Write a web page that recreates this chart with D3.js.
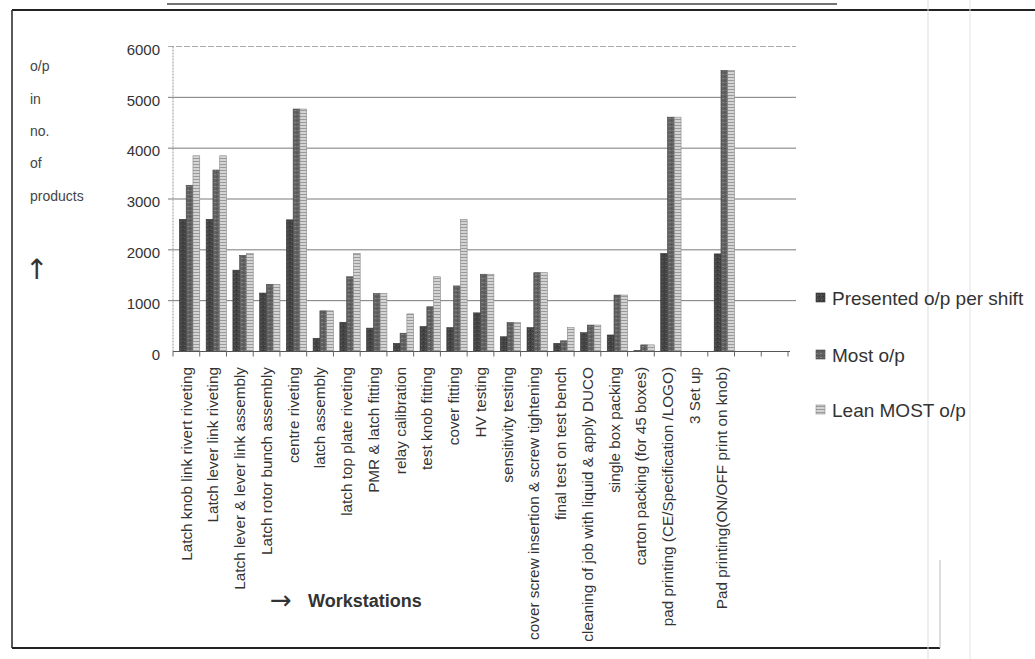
<!DOCTYPE html>
<html>
<head>
<meta charset="utf-8">
<script src="https://cdn.jsdelivr.net/npm/d3@7"></script>
<style>
  html, body { margin: 0; padding: 0; background: #ffffff; }
  svg { display: block; }
  text { font-family: "Liberation Sans", Arial, sans-serif; fill: #333; }
</style>
</head>
<body>
<svg id="chart" width="1035" height="659"></svg>
<script>
// ---- data ----
const categories = [
  "Latch knob link rivert riveting",
  "Latch lever link riveting",
  "Latch lever & lever link assembly",
  "Latch rotor bunch assembly",
  "centre riveting",
  "latch assembly",
  "latch top plate riveting",
  "PMR & latch fitting",
  "relay calibration",
  "test knob fitting",
  "cover fitting",
  "HV testing",
  "sensitivity testing",
  "cover screw insertion & screw tightening",
  "final test on test bench",
  "cleaning of job with liquid & apply DUCO",
  "single box packing",
  "carton packing (for 45 boxes)",
  "pad printing (CE/Specification /LOGO)",
  "3 Set up",
  "Pad printing(ON/OFF print on knob)"
];
const emptySlots = ["", ""];
const seriesNames = ["Presented o/p per shift", "Most o/p", "Lean MOST o/p"];
const presented = [2600, 2600, 1600, 1150, 2590, 260, 575, 460, 160, 490, 470, 760, 290, 470, 160, 370, 325, 20, 1930, 0, 1920];
const mostOp    = [3270, 3570, 1890, 1320, 4770, 800, 1470, 1140, 360, 880, 1290, 1520, 570, 1550, 210, 520, 1110, 130, 4610, 0, 5530];
const leanMost  = [3850, 3850, 1930, 1320, 4770, 800, 1930, 1140, 740, 1470, 2600, 1520, 570, 1550, 470, 520, 1110, 130, 4610, 0, 5530];
const yTicks = [0, 1000, 2000, 3000, 4000, 5000, 6000];
const yTitleWords = ["o/p", "in", "no.", "of", "products"];

const svg = d3.select("#chart");

// patterns
const defs = svg.append("defs");
const p1 = defs.append("pattern").attr("id", "patP").attr("patternUnits", "userSpaceOnUse").attr("width", 4).attr("height", 4);
p1.append("rect").attr("width", 4).attr("height", 4).attr("fill", "#444");
p1.append("rect").attr("x", 1).attr("y", 1).attr("width", 1).attr("height", 1).attr("fill", "#666");
p1.append("rect").attr("x", 3).attr("y", 2).attr("width", 1).attr("height", 1).attr("fill", "#2e2e2e");
const p2 = defs.append("pattern").attr("id", "patM").attr("patternUnits", "userSpaceOnUse").attr("width", 4).attr("height", 4);
p2.append("rect").attr("width", 4).attr("height", 4).attr("fill", "#626262");
p2.append("rect").attr("x", 0).attr("y", 2).attr("width", 2).attr("height", 1).attr("fill", "#858585");
p2.append("rect").attr("x", 2).attr("y", 0).attr("width", 1).attr("height", 1).attr("fill", "#4a4a4a");
const p3 = defs.append("pattern").attr("id", "patL").attr("patternUnits", "userSpaceOnUse").attr("width", 4).attr("height", 3);
p3.append("rect").attr("width", 4).attr("height", 3).attr("fill", "#d4d4d4");
p3.append("rect").attr("y", 2).attr("width", 4).attr("height", 1).attr("fill", "#9a9a9a");
const fills = ["url(#patP)", "url(#patM)", "url(#patL)"];
const strokes = ["#333", "#444", "#888"];

// frame
svg.append("line").attr("x1", 12).attr("x2", 1035).attr("y1", 10).attr("y2", 10).attr("stroke", "#222").attr("stroke-width", 2);
svg.append("line").attr("x1", 167).attr("x2", 837).attr("y1", 4).attr("y2", 4).attr("stroke", "#444").attr("stroke-width", 1.5);
svg.append("line").attr("x1", 12).attr("x2", 12).attr("y1", 10).attr("y2", 648).attr("stroke", "#222").attr("stroke-width", 1.5);
svg.append("line").attr("x1", 12).attr("x2", 940).attr("y1", 648).attr("y2", 648).attr("stroke", "#222").attr("stroke-width", 2);
svg.append("line").attr("x1", 928).attr("x2", 928).attr("y1", 0).attr("y2", 659).attr("stroke", "#ddd").attr("stroke-width", 1);
svg.append("line").attr("x1", 970).attr("x2", 970).attr("y1", 0).attr("y2", 659).attr("stroke", "#e2e2e2").attr("stroke-width", 1);
svg.append("line").attr("x1", 940).attr("x2", 940).attr("y1", 560).attr("y2", 648).attr("stroke", "#bbb").attr("stroke-width", 1);

// scales
const slotDomain = categories.concat(emptySlots.map((d, i) => "__empty" + i));
const x = d3.scaleBand().domain(slotDomain).range([173, 788]).padding(0);
const y = d3.scaleLinear().domain([0, 6000]).range([351.5, 46.5]);
const xInner = d3.scaleBand().domain(seriesNames).range([0, x.bandwidth() * 0.76]).padding(0);

// gridlines
svg.append("g").selectAll("line").data(yTicks.filter(t => t > 0)).join("line")
  .attr("x1", 168).attr("x2", 796)
  .attr("y1", d => y(d)).attr("y2", d => y(d))
  .attr("stroke", d => d === 6000 ? "#aaa" : "#7a7a7a")
  .attr("stroke-width", 1)
  .attr("stroke-dasharray", d => d === 6000 ? "6,2" : null);

// left axis line
svg.append("line").attr("x1", 173).attr("x2", 173).attr("y1", y(6000)).attr("y2", y(0))
  .attr("stroke", "#999").attr("stroke-dasharray", "2,1");

// y tick labels
svg.append("g").selectAll("text").data(yTicks).join("text")
  .attr("x", 160).attr("y", d => y(d) + 3)
  .attr("dy", "0.35em").attr("text-anchor", "end")
  .style("font-size", "15px").text(d => d);

// y title
svg.append("g").selectAll("text").data(yTitleWords).join("text")
  .attr("x", 30).attr("y", (d, i) => [71, 104, 136, 168, 201][i])
  .style("font-size", "14px").style("fill", "#444").text(d => d);
svg.append("text").attr("x", 25).attr("y", 279)
  .style("font-family", "'DejaVu Sans', sans-serif").style("font-size", "28px").style("fill", "#333").text("↑");

// bars
const series = [presented, mostOp, leanMost];
const groups = svg.append("g").selectAll("g").data(categories).join("g")
  .attr("transform", d => `translate(${x(d) + x.bandwidth() * 0.24},0)`);
groups.selectAll("rect").data((d, i) => series.map((s, k) => ({ k, v: s[i] })).filter(o => o.v > 0)).join("rect")
  .attr("x", o => xInner(seriesNames[o.k]))
  .attr("width", xInner.bandwidth())
  .attr("y", o => y(o.v))
  .attr("height", o => y(0) - y(o.v))
  .attr("fill", o => fills[o.k])
  .attr("stroke", o => strokes[o.k])
  .attr("stroke-width", 0.6);

// x axis
svg.append("line").attr("x1", 173).attr("x2", 790).attr("y1", y(0)).attr("y2", y(0)).attr("stroke", "#555").attr("stroke-width", 1.2);
svg.append("g").selectAll("line").data(slotDomain.concat(["__end"])).join("line")
  .attr("x1", (d, i) => i < slotDomain.length ? x(d) : x.range()[1])
  .attr("x2", (d, i) => i < slotDomain.length ? x(d) : x.range()[1])
  .attr("y1", y(0)).attr("y2", y(0) + 5)
  .attr("stroke", "#666");

// category labels
svg.append("g").selectAll("text").data(categories).join("text")
  .attr("transform", d => `translate(${x(d) + x.bandwidth() / 2},367) rotate(-90)`)
  .attr("dy", "0.35em").attr("text-anchor", "end")
  .style("font-size", "15.3px").text(d => d);

// x title
svg.append("text").attr("x", 270).attr("y", 609)
  .style("font-family", "'DejaVu Sans', sans-serif").style("font-size", "26px").text("→");
svg.append("text").attr("x", 308).attr("y", 607).style("font-size", "18px").style("font-weight", "bold").text("Workstations");

// legend
const legend = svg.append("g").selectAll("g").data(seriesNames).join("g")
  .attr("transform", (d, i) => `translate(816,${[298, 355, 410][i]})`);
legend.append("rect").attr("x", 0).attr("y", -5).attr("width", 9).attr("height", 9)
  .attr("fill", (d, i) => fills[i]).attr("stroke", (d, i) => strokes[i]).attr("stroke-width", 0.6);
legend.append("text").attr("x", 16).attr("dy", "0.35em").style("font-size", "19px").style("fill", "#333").text(d => d);
</script>
</body>
</html>
